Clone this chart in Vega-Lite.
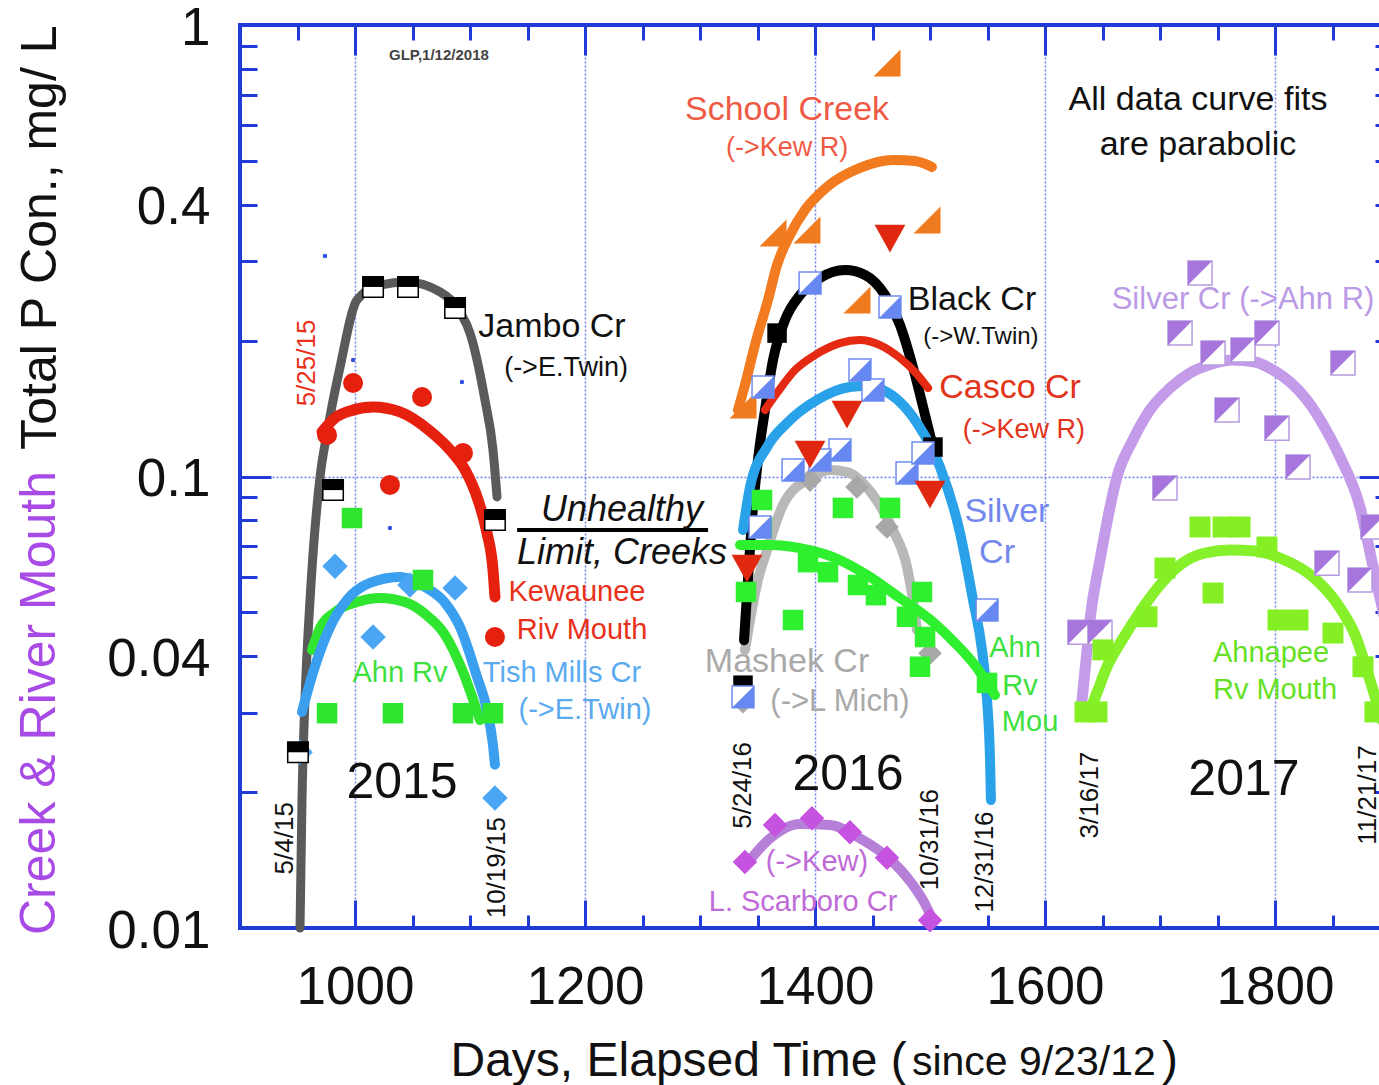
{
  "$schema": "https://vega.github.io/schema/vega-lite/v6.json",
  "width": 1150,
  "height": 903,
  "autosize": {"type": "none"},
  "padding": {"left": 240, "top": 25, "right": -11, "bottom": 157},
  "background": "white",
  "config": {
    "view": {"stroke": "#1f3ad6", "strokeWidth": 4},
    "text": {"font": "Liberation Sans"}
  },
  "datasets": {
    "pt": [{"day": 900, "p": 0.01}],
    "uline": [{"day": 1141, "day2": 1307, "p": 0.0761}],
    "curves": [
      {"s": "jambo", "day": 952.2, "p": 0.0100}, {"s": "jambo", "day": 953.9, "p": 0.0192}, {"s": "jambo", "day": 956.5, "p": 0.0320}, {"s": "jambo", "day": 960.9, "p": 0.0533}, {"s": "jambo", "day": 969.6, "p": 0.0998}, {"s": "jambo", "day": 975.7, "p": 0.1249}, {"s": "jambo", "day": 987.0, "p": 0.1748}, {"s": "jambo", "day": 1001.7, "p": 0.2460}, {"s": "jambo", "day": 1021.7, "p": 0.2655}, {"s": "jambo", "day": 1045.2, "p": 0.2697}, {"s": "jambo", "day": 1073.9, "p": 0.2563}, {"s": "jambo", "day": 1091.3, "p": 0.2314}, {"s": "jambo", "day": 1100.0, "p": 0.2078}, {"s": "jambo", "day": 1113.0, "p": 0.1477}, {"s": "jambo", "day": 1120.0, "p": 0.1145}, {"s": "jambo", "day": 1123.5, "p": 0.0901},
      {"s": "kew", "day": 971.3, "p": 0.1255}, {"s": "kew", "day": 982.6, "p": 0.1348}, {"s": "kew", "day": 995.7, "p": 0.1397}, {"s": "kew", "day": 1015.7, "p": 0.1425}, {"s": "kew", "day": 1039.1, "p": 0.1390}, {"s": "kew", "day": 1065.2, "p": 0.1261}, {"s": "kew", "day": 1082.6, "p": 0.1145}, {"s": "kew", "day": 1095.7, "p": 0.1034}, {"s": "kew", "day": 1107.0, "p": 0.0887}, {"s": "kew", "day": 1114.8, "p": 0.0750}, {"s": "kew", "day": 1120.0, "p": 0.0621}, {"s": "kew", "day": 1121.7, "p": 0.0541},
      {"s": "tish", "day": 953.9, "p": 0.0301}, {"s": "tish", "day": 959.1, "p": 0.0337}, {"s": "tish", "day": 967.0, "p": 0.0392}, {"s": "tish", "day": 978.3, "p": 0.0464}, {"s": "tish", "day": 993.0, "p": 0.0533}, {"s": "tish", "day": 1013.0, "p": 0.0581}, {"s": "tish", "day": 1039.1, "p": 0.0599}, {"s": "tish", "day": 1060.9, "p": 0.0569}, {"s": "tish", "day": 1078.3, "p": 0.0525}, {"s": "tish", "day": 1091.3, "p": 0.0464}, {"s": "tish", "day": 1106.1, "p": 0.0360}, {"s": "tish", "day": 1114.8, "p": 0.0304}, {"s": "tish", "day": 1120.0, "p": 0.0254}, {"s": "tish", "day": 1121.7, "p": 0.0230},
      {"s": "ahn15", "day": 962.6, "p": 0.0413}, {"s": "ahn15", "day": 969.6, "p": 0.0462}, {"s": "ahn15", "day": 982.6, "p": 0.0501}, {"s": "ahn15", "day": 1001.7, "p": 0.0527}, {"s": "ahn15", "day": 1021.7, "p": 0.0538}, {"s": "ahn15", "day": 1043.5, "p": 0.0527}, {"s": "ahn15", "day": 1060.9, "p": 0.0496}, {"s": "ahn15", "day": 1078.3, "p": 0.0446}, {"s": "ahn15", "day": 1093.9, "p": 0.0369}, {"s": "ahn15", "day": 1104.3, "p": 0.0312}, {"s": "ahn15", "day": 1108.7, "p": 0.0289},
      {"s": "school", "day": 1333.0, "p": 0.1404}, {"s": "school", "day": 1339.1, "p": 0.1595}, {"s": "school", "day": 1347.8, "p": 0.1955}, {"s": "school", "day": 1359.1, "p": 0.2460}, {"s": "school", "day": 1367.0, "p": 0.2940}, {"s": "school", "day": 1378.3, "p": 0.3427}, {"s": "school", "day": 1391.3, "p": 0.3893}, {"s": "school", "day": 1410.4, "p": 0.4377}, {"s": "school", "day": 1439.1, "p": 0.4825}, {"s": "school", "day": 1467.8, "p": 0.5024}, {"s": "school", "day": 1487.0, "p": 0.4998}, {"s": "school", "day": 1501.7, "p": 0.4849},
      {"s": "black", "day": 1338.3, "p": 0.0434}, {"s": "black", "day": 1341.7, "p": 0.0590}, {"s": "black", "day": 1345.2, "p": 0.0801}, {"s": "black", "day": 1350.4, "p": 0.1088}, {"s": "black", "day": 1356.5, "p": 0.1404}, {"s": "black", "day": 1363.5, "p": 0.1811}, {"s": "black", "day": 1373.9, "p": 0.2222}, {"s": "black", "day": 1387.0, "p": 0.2523}, {"s": "black", "day": 1404.3, "p": 0.2752}, {"s": "black", "day": 1426.1, "p": 0.2866}, {"s": "black", "day": 1443.5, "p": 0.2795}, {"s": "black", "day": 1460.9, "p": 0.2523}, {"s": "black", "day": 1473.9, "p": 0.2166}, {"s": "black", "day": 1487.0, "p": 0.1678}, {"s": "black", "day": 1495.7, "p": 0.1368}, {"s": "black", "day": 1502.6, "p": 0.1162},
      {"s": "casco", "day": 1356.5, "p": 0.1404}, {"s": "casco", "day": 1367.0, "p": 0.1531}, {"s": "casco", "day": 1382.6, "p": 0.1721}, {"s": "casco", "day": 1400.0, "p": 0.1858}, {"s": "casco", "day": 1421.7, "p": 0.1975}, {"s": "casco", "day": 1439.1, "p": 0.2006}, {"s": "casco", "day": 1456.5, "p": 0.1955}, {"s": "casco", "day": 1473.9, "p": 0.1830}, {"s": "casco", "day": 1487.0, "p": 0.1704}, {"s": "casco", "day": 1498.3, "p": 0.1570},
      {"s": "silver16", "day": 1337.4, "p": 0.0761}, {"s": "silver16", "day": 1343.5, "p": 0.0948}, {"s": "silver16", "day": 1358.3, "p": 0.1162}, {"s": "silver16", "day": 1375.7, "p": 0.1314}, {"s": "silver16", "day": 1401.7, "p": 0.1477}, {"s": "silver16", "day": 1430.4, "p": 0.1578}, {"s": "silver16", "day": 1443.5, "p": 0.1586}, {"s": "silver16", "day": 1459.1, "p": 0.1554}, {"s": "silver16", "day": 1488.7, "p": 0.1314}, {"s": "silver16", "day": 1508.7, "p": 0.1050}, {"s": "silver16", "day": 1526.1, "p": 0.0750}, {"s": "silver16", "day": 1537.4, "p": 0.0533}, {"s": "silver16", "day": 1545.2, "p": 0.0413}, {"s": "silver16", "day": 1549.6, "p": 0.0320}, {"s": "silver16", "day": 1552.2, "p": 0.0236}, {"s": "silver16", "day": 1553.0, "p": 0.0192},
      {"s": "mashek", "day": 1339.1, "p": 0.0413}, {"s": "mashek", "day": 1343.5, "p": 0.0481}, {"s": "mashek", "day": 1350.4, "p": 0.0590}, {"s": "mashek", "day": 1358.3, "p": 0.0687}, {"s": "mashek", "day": 1372.2, "p": 0.0865}, {"s": "mashek", "day": 1395.7, "p": 0.0992}, {"s": "mashek", "day": 1413.0, "p": 0.1034}, {"s": "mashek", "day": 1427.8, "p": 0.1023}, {"s": "mashek", "day": 1450.4, "p": 0.0910}, {"s": "mashek", "day": 1467.8, "p": 0.0761}, {"s": "mashek", "day": 1480.0, "p": 0.0630}, {"s": "mashek", "day": 1485.2, "p": 0.0533}, {"s": "mashek", "day": 1488.7, "p": 0.0457},
      {"s": "ahn16", "day": 1334.8, "p": 0.0705}, {"s": "ahn16", "day": 1360.9, "p": 0.0705}, {"s": "ahn16", "day": 1387.0, "p": 0.0694}, {"s": "ahn16", "day": 1415.7, "p": 0.0663}, {"s": "ahn16", "day": 1445.2, "p": 0.0605}, {"s": "ahn16", "day": 1473.9, "p": 0.0538}, {"s": "ahn16", "day": 1502.6, "p": 0.0476}, {"s": "ahn16", "day": 1521.7, "p": 0.0428}, {"s": "ahn16", "day": 1539.1, "p": 0.0382}, {"s": "ahn16", "day": 1556.5, "p": 0.0328},
      {"s": "scarboro", "day": 1339.1, "p": 0.0137}, {"s": "scarboro", "day": 1360.9, "p": 0.0158}, {"s": "scarboro", "day": 1387.0, "p": 0.0170}, {"s": "scarboro", "day": 1413.0, "p": 0.0169}, {"s": "scarboro", "day": 1439.1, "p": 0.0158}, {"s": "scarboro", "day": 1465.2, "p": 0.0142}, {"s": "scarboro", "day": 1482.6, "p": 0.0127}, {"s": "scarboro", "day": 1495.7, "p": 0.0113}, {"s": "scarboro", "day": 1501.7, "p": 0.0105},
      {"s": "silver17", "day": 1632.2, "p": 0.0320}, {"s": "silver17", "day": 1635.7, "p": 0.0392}, {"s": "silver17", "day": 1639.1, "p": 0.0481}, {"s": "silver17", "day": 1647.8, "p": 0.0653}, {"s": "silver17", "day": 1662.6, "p": 0.0998}, {"s": "silver17", "day": 1676.5, "p": 0.1205}, {"s": "silver17", "day": 1691.3, "p": 0.1404}, {"s": "silver17", "day": 1708.7, "p": 0.1570}, {"s": "silver17", "day": 1726.1, "p": 0.1696}, {"s": "silver17", "day": 1745.2, "p": 0.1775}, {"s": "silver17", "day": 1763.5, "p": 0.1811}, {"s": "silver17", "day": 1782.6, "p": 0.1793}, {"s": "silver17", "day": 1798.3, "p": 0.1721}, {"s": "silver17", "day": 1813.0, "p": 0.1620}, {"s": "silver17", "day": 1827.8, "p": 0.1477}, {"s": "silver17", "day": 1843.5, "p": 0.1280}, {"s": "silver17", "day": 1856.5, "p": 0.1105}, {"s": "silver17", "day": 1873.9, "p": 0.0856}, {"s": "silver17", "day": 1885.2, "p": 0.0633}, {"s": "silver17", "day": 1895.7, "p": 0.0481},
      {"s": "ahnapee", "day": 1637.4, "p": 0.0296}, {"s": "ahnapee", "day": 1645.2, "p": 0.0332}, {"s": "ahnapee", "day": 1653.9, "p": 0.0379}, {"s": "ahnapee", "day": 1667.0, "p": 0.0434}, {"s": "ahnapee", "day": 1682.6, "p": 0.0501}, {"s": "ahnapee", "day": 1700.0, "p": 0.0575}, {"s": "ahnapee", "day": 1717.4, "p": 0.0637}, {"s": "ahnapee", "day": 1739.1, "p": 0.0677}, {"s": "ahnapee", "day": 1760.9, "p": 0.0687}, {"s": "ahnapee", "day": 1782.6, "p": 0.0684}, {"s": "ahnapee", "day": 1804.3, "p": 0.0660}, {"s": "ahnapee", "day": 1833.0, "p": 0.0599}, {"s": "ahnapee", "day": 1856.5, "p": 0.0512}, {"s": "ahnapee", "day": 1869.6, "p": 0.0446}, {"s": "ahnapee", "day": 1882.6, "p": 0.0354}, {"s": "ahnapee", "day": 1893.0, "p": 0.0289}
    ],
    "pts": [
      {"s": "jambo", "day": 950.4, "p": 0.0245}, {"s": "jambo", "day": 980.9, "p": 0.0933}, {"s": "jambo", "day": 1015.7, "p": 0.2629}, {"s": "jambo", "day": 1046.1, "p": 0.2629}, {"s": "jambo", "day": 1087.0, "p": 0.2361}, {"s": "jambo", "day": 1121.7, "p": 0.0801},
      {"s": "kew", "day": 975.7, "p": 0.1236}, {"s": "kew", "day": 998.3, "p": 0.1611}, {"s": "kew", "day": 1058.3, "p": 0.1500}, {"s": "kew", "day": 1093.9, "p": 0.1127}, {"s": "kew", "day": 1030.4, "p": 0.0958}, {"s": "kew", "day": 1121.7, "p": 0.0441},
      {"s": "tiny", "day": 973.9, "p": 0.3078}, {"s": "tiny", "day": 998.3, "p": 0.1811}, {"s": "tiny", "day": 1093.0, "p": 0.1620}, {"s": "tiny", "day": 1030.4, "p": 0.0769},
      {"s": "tish", "day": 982.6, "p": 0.0633}, {"s": "tish", "day": 1015.7, "p": 0.0441}, {"s": "tish", "day": 1047.8, "p": 0.0575}, {"s": "tish", "day": 1087.0, "p": 0.0566}, {"s": "tish", "day": 1121.7, "p": 0.0194}, {"s": "tish", "day": 952.2, "p": 0.0245},
      {"s": "ahn15", "day": 975.7, "p": 0.0299}, {"s": "ahn15", "day": 1033.0, "p": 0.0299}, {"s": "ahn15", "day": 1093.9, "p": 0.0299}, {"s": "ahn15", "day": 1120.0, "p": 0.0299}, {"s": "ahn15", "day": 997.4, "p": 0.0809}, {"s": "ahn15", "day": 1059.1, "p": 0.0590},
      {"s": "school", "day": 1462.6, "p": 0.8237}, {"s": "school", "day": 1363.5, "p": 0.3462}, {"s": "school", "day": 1393.0, "p": 0.3516}, {"s": "school", "day": 1497.4, "p": 0.3700}, {"s": "school", "day": 1436.5, "p": 0.2460}, {"s": "school", "day": 1337.4, "p": 0.1440},
      {"s": "black", "day": 1367.0, "p": 0.2078}, {"s": "black", "day": 1502.6, "p": 0.1162}, {"s": "black", "day": 1337.4, "p": 0.0345},
      {"s": "casco", "day": 1465.2, "p": 0.3392}, {"s": "casco", "day": 1427.8, "p": 0.1382}, {"s": "casco", "day": 1395.7, "p": 0.1127}, {"s": "casco", "day": 1500.0, "p": 0.0919}, {"s": "casco", "day": 1340.9, "p": 0.0630},
      {"s": "silver16", "day": 1395.7, "p": 0.2683}, {"s": "silver16", "day": 1465.2, "p": 0.2374}, {"s": "silver16", "day": 1354.8, "p": 0.1578}, {"s": "silver16", "day": 1439.1, "p": 0.1721}, {"s": "silver16", "day": 1450.4, "p": 0.1554}, {"s": "silver16", "day": 1421.7, "p": 0.1145}, {"s": "silver16", "day": 1380.9, "p": 0.1034}, {"s": "silver16", "day": 1404.3, "p": 0.1088}, {"s": "silver16", "day": 1480.0, "p": 0.1018}, {"s": "silver16", "day": 1493.9, "p": 0.1127}, {"s": "silver16", "day": 1352.2, "p": 0.0773}, {"s": "silver16", "day": 1549.6, "p": 0.0506}, {"s": "silver16", "day": 1337.4, "p": 0.0325},
      {"s": "mashek", "day": 1395.7, "p": 0.0982}, {"s": "mashek", "day": 1436.5, "p": 0.0948}, {"s": "mashek", "day": 1462.6, "p": 0.0773}, {"s": "mashek", "day": 1500.0, "p": 0.0406}, {"s": "mashek", "day": 1337.4, "p": 0.0317},
      {"s": "ahn16", "day": 1353.9, "p": 0.0887}, {"s": "ahn16", "day": 1353.9, "p": 0.0773}, {"s": "ahn16", "day": 1340.0, "p": 0.0555}, {"s": "ahn16", "day": 1380.9, "p": 0.0481}, {"s": "ahn16", "day": 1393.9, "p": 0.0646}, {"s": "ahn16", "day": 1411.3, "p": 0.0614}, {"s": "ahn16", "day": 1424.3, "p": 0.0852}, {"s": "ahn16", "day": 1465.2, "p": 0.0852}, {"s": "ahn16", "day": 1437.4, "p": 0.0575}, {"s": "ahn16", "day": 1453.0, "p": 0.0546}, {"s": "ahn16", "day": 1480.0, "p": 0.0489}, {"s": "ahn16", "day": 1493.0, "p": 0.0555}, {"s": "ahn16", "day": 1495.7, "p": 0.0441}, {"s": "ahn16", "day": 1491.3, "p": 0.0379}, {"s": "ahn16", "day": 1549.6, "p": 0.0349},
      {"s": "scarboro", "day": 1339.1, "p": 0.0140}, {"s": "scarboro", "day": 1365.2, "p": 0.0169}, {"s": "scarboro", "day": 1397.4, "p": 0.0175}, {"s": "scarboro", "day": 1430.4, "p": 0.0163}, {"s": "scarboro", "day": 1462.6, "p": 0.0143}, {"s": "scarboro", "day": 1500.0, "p": 0.0104},
      {"s": "silver17", "day": 1630.4, "p": 0.0452}, {"s": "silver17", "day": 1647.8, "p": 0.0452}, {"s": "silver17", "day": 1704.3, "p": 0.0943}, {"s": "silver17", "day": 1734.8, "p": 0.2823}, {"s": "silver17", "day": 1717.4, "p": 0.2078}, {"s": "silver17", "day": 1746.1, "p": 0.1877}, {"s": "silver17", "day": 1772.2, "p": 0.1906}, {"s": "silver17", "day": 1793.0, "p": 0.2078}, {"s": "silver17", "day": 1859.1, "p": 0.1784}, {"s": "silver17", "day": 1758.3, "p": 0.1404}, {"s": "silver17", "day": 1801.7, "p": 0.1280}, {"s": "silver17", "day": 1820.0, "p": 0.1050}, {"s": "silver17", "day": 1845.2, "p": 0.0643}, {"s": "silver17", "day": 1873.9, "p": 0.0590}, {"s": "silver17", "day": 1885.2, "p": 0.0773},
      {"s": "ahnapee", "day": 1634.8, "p": 0.0301}, {"s": "ahnapee", "day": 1645.2, "p": 0.0301}, {"s": "ahnapee", "day": 1650.4, "p": 0.0413}, {"s": "ahnapee", "day": 1688.7, "p": 0.0489}, {"s": "ahnapee", "day": 1704.3, "p": 0.0627}, {"s": "ahnapee", "day": 1734.8, "p": 0.0773}, {"s": "ahnapee", "day": 1754.8, "p": 0.0773}, {"s": "ahnapee", "day": 1769.6, "p": 0.0773}, {"s": "ahnapee", "day": 1793.0, "p": 0.0698}, {"s": "ahnapee", "day": 1746.1, "p": 0.0552}, {"s": "ahnapee", "day": 1802.6, "p": 0.0481}, {"s": "ahnapee", "day": 1820.0, "p": 0.0481}, {"s": "ahnapee", "day": 1850.4, "p": 0.0450}, {"s": "ahnapee", "day": 1876.5, "p": 0.0379}, {"s": "ahnapee", "day": 1886.9, "p": 0.0301}
    ],
    "t34": [
      {"day": 1171.3, "p": 0.2144, "text": "Jambo Cr", "c": "black"},
      {"day": 1375.7, "p": 0.648, "text": "School Creek", "c": "school"},
      {"day": 1569.6, "p": 0.157, "text": "Casco Cr", "c": "casco"},
      {"day": 1536.5, "p": 0.246, "text": "Black Cr", "c": "black"},
      {"day": 1375.7, "p": 0.0388, "text": "Mashek Cr", "c": "mashek"},
      {"day": 1566.9, "p": 0.0834, "text": "Silver", "c": "silver16"},
      {"day": 1558.3, "p": 0.0677, "text": "Cr", "c": "silver16"},
      {"day": 1733.0, "p": 0.682, "text": "All data curve fits", "c": "black"},
      {"day": 1733.0, "p": 0.542, "text": "are parabolic", "c": "black"}
    ],
    "t29": [
      {"day": 1193.0, "p": 0.0555, "text": "Kewaunee", "c": "kew"},
      {"day": 1197.4, "p": 0.0457, "text": "Riv Mouth", "c": "kew"},
      {"day": 1180.0, "p": 0.0368, "text": "Tish Mills Cr", "c": "tish"},
      {"day": 1200.0, "p": 0.0304, "text": "(->E.Twin)", "c": "tish"},
      {"day": 1039.1, "p": 0.0367, "text": "Ahn Rv", "c": "ahn"},
      {"day": 1389.6, "p": 0.01142, "text": "L. Scarboro Cr", "c": "scarboro"},
      {"day": 1401.7, "p": 0.0140, "text": "(->Kew)", "c": "scarboro"},
      {"day": 1796.5, "p": 0.0406, "text": "Ahnapee", "c": "ahnapee"},
      {"day": 1800.0, "p": 0.0337, "text": "Rv Mouth", "c": "ahnapee"},
      {"day": 1573.9, "p": 0.0417, "text": "Ahn", "c": "ahn"},
      {"day": 1578.3, "p": 0.0344, "text": "Rv", "c": "ahn"},
      {"day": 1587.0, "p": 0.0286, "text": "Mou", "c": "ahn"}
    ],
    "t31": [
      {"day": 1772.2, "p": 0.246, "text": "Silver Cr (->Ahn R)", "c": "silver17"},
      {"day": 1421.7, "p": 0.0317, "text": "(->L Mich)", "c": "mashek"}
    ],
    "t27": [
      {"day": 1183.5, "p": 0.1739, "text": "(->E.Twin)", "c": "black"},
      {"day": 1375.7, "p": 0.534, "text": "(->Kew R)", "c": "school"},
      {"day": 1581.7, "p": 0.1268, "text": "(->Kew R)", "c": "casco"}
    ],
    "t24": [
      {"day": 1544.3, "p": 0.2037, "text": "(->W.Twin)", "c": "black"}
    ],
    "tyear": [
      {"day": 1040.9, "p": 0.0210, "text": "2015", "c": "black"},
      {"day": 1428.7, "p": 0.0218, "text": "2016", "c": "black"},
      {"day": 1773.0, "p": 0.0213, "text": "2017", "c": "black"}
    ],
    "tdate": [
      {"day": 939.1, "p": 0.0158, "text": "5/4/15", "c": "black"},
      {"day": 1123.5, "p": 0.0136, "text": "10/19/15", "c": "black"},
      {"day": 1337.4, "p": 0.0207, "text": "5/24/16", "c": "black"},
      {"day": 1500.0, "p": 0.0157, "text": "10/31/16", "c": "black"},
      {"day": 1547.8, "p": 0.0140, "text": "12/31/16", "c": "black"},
      {"day": 1639.1, "p": 0.0197, "text": "3/16/17", "c": "black"},
      {"day": 1881.0, "p": 0.0197, "text": "11/21/17", "c": "black"},
      {"day": 958.0, "p": 0.1784, "text": "5/25/15", "c": "kew"}
    ],
    "titalic": [
      {"day": 1232.2, "p": 0.0843, "text": "Unhealthy", "c": "black"},
      {"day": 1232.2, "p": 0.0677, "text": "Limit, Creeks", "c": "black"}
    ],
    "tglp": [
      {"day": 1073.0, "p": 0.858, "text": "GLP,1/12/2018", "c": "glp"}
    ],
    "tytitle": [
      {"day": 726.1, "p": 0.00965, "text": "Creek & River Mouth", "c": "purple"}
    ],
    "tsince": [
      {"day": 1484.3, "p": 0.004725, "text": "since 9/23/12", "c": "black"}
    ],
    "tparen": [
      {"day": 1701.7, "p": 0.004725, "text": ")", "c": "black"}
    ]
  },
  "encoding": {
    "x": {"field": "day", "type": "quantitative", "scale": {"domain": [900, 1900], "nice": false, "zero": false}, "axis": null},
    "y": {"field": "p", "type": "quantitative", "scale": {"type": "log", "domain": [0.01, 1], "nice": false}, "axis": null}
  },
  "resolve": {"axis": {"x": "independent", "y": "independent"}},
  "layer": [
    {
      "data": {"name": "pt"},
      "mark": {"type": "point", "opacity": 0},
      "encoding": {
        "x": {"field": "day", "type": "quantitative", "scale": {"domain": [900, 1900], "nice": false, "zero": false},
          "axis": {"orient": "bottom", "values": [1000, 1200, 1400, 1600, 1800], "format": "d", "ticks": false, "domain": false,
            "grid": true, "gridColor": "#6f80ee", "gridDash": [2, 2], "gridWidth": 1.5,
            "labelFont": "Liberation Sans", "labelFontSize": 53, "labelColor": "#111111", "labelPadding": 33, "labelOverlap": false, "labelFlush": false,
            "title": "Days, Elapsed Time (", "titleFont": "Liberation Sans", "titleFontSize": 48, "titleFontWeight": "normal", "titleColor": "#111111",
            "titleX": 210, "titleY": 147, "titleAlign": "left", "titleBaseline": "alphabetic", "titleAngle": 0}}
      }
    },
    {
      "data": {"name": "pt"},
      "mark": {"type": "point", "opacity": 0},
      "encoding": {
        "x": {"field": "day", "type": "quantitative", "scale": {"domain": [900, 1900], "nice": false, "zero": false},
          "axis": {"orient": "bottom", "values": [1000, 1200, 1400, 1600, 1800], "labels": false, "domain": false, "grid": false,
            "ticks": true, "tickSize": 28, "tickWidth": 3, "tickColor": "#1f3ad6", "offset": -28, "title": null}}
      }
    },
    {
      "data": {"name": "pt"},
      "mark": {"type": "point", "opacity": 0},
      "encoding": {
        "x": {"field": "day", "type": "quantitative", "scale": {"domain": [900, 1900], "nice": false, "zero": false},
          "axis": {"orient": "bottom", "values": [950, 1050, 1100, 1150, 1250, 1300, 1350, 1450, 1500, 1550, 1650, 1700, 1750, 1850], "labels": false, "domain": false, "grid": false,
            "ticks": true, "tickSize": 13, "tickWidth": 3, "tickColor": "#1f3ad6", "offset": -13, "title": null}}
      }
    },
    {
      "data": {"name": "pt"},
      "mark": {"type": "point", "opacity": 0},
      "encoding": {
        "x": {"field": "day", "type": "quantitative", "scale": {"domain": [900, 1900], "nice": false, "zero": false},
          "axis": {"orient": "top", "values": [1000, 1200, 1400, 1600, 1800], "labels": false, "domain": false, "grid": false,
            "ticks": true, "tickSize": 30, "tickWidth": 3, "tickColor": "#1f3ad6", "offset": -30, "title": null}}
      }
    },
    {
      "data": {"name": "pt"},
      "mark": {"type": "point", "opacity": 0},
      "encoding": {
        "x": {"field": "day", "type": "quantitative", "scale": {"domain": [900, 1900], "nice": false, "zero": false},
          "axis": {"orient": "top", "values": [950, 1050, 1100, 1150, 1250, 1300, 1350, 1450, 1500, 1550, 1650, 1700, 1750, 1850], "labels": false, "domain": false, "grid": false,
            "ticks": true, "tickSize": 15, "tickWidth": 3, "tickColor": "#1f3ad6", "offset": -15, "title": null}}
      }
    },
    {
      "data": {"name": "pt"},
      "mark": {"type": "point", "opacity": 0},
      "encoding": {
        "y": {"field": "p", "type": "quantitative", "scale": {"type": "log", "domain": [0.01, 1], "nice": false},
          "axis": {"orient": "left", "values": [1, 0.4, 0.1, 0.04, 0.01], "format": "~g", "ticks": false, "domain": false, "grid": false,
            "labelFont": "Liberation Sans", "labelFontSize": 53, "labelColor": "#111111", "labelPadding": 30, "labelOffset": 3, "labelOverlap": false, "labelFlush": false,
            "title": "Total P Con., mg/ L", "titleFont": "Liberation Sans", "titleFontSize": 50, "titleFontWeight": "normal", "titleColor": "#111111",
            "titleAngle": 270, "titleX": -200, "titleY": 0, "titleAlign": "right", "titleBaseline": "middle"}}
      }
    },
    {
      "data": {"name": "pt"},
      "mark": {"type": "point", "opacity": 0},
      "encoding": {
        "y": {"field": "p", "type": "quantitative", "scale": {"type": "log", "domain": [0.01, 1], "nice": false},
          "axis": {"orient": "left", "values": [0.1], "labels": false, "ticks": false, "domain": false,
            "grid": true, "gridColor": "#6f80ee", "gridDash": [2, 2], "gridWidth": 1.5, "title": null}}
      }
    },
    {
      "data": {"name": "pt"},
      "mark": {"type": "point", "opacity": 0},
      "encoding": {
        "y": {"field": "p", "type": "quantitative", "scale": {"type": "log", "domain": [0.01, 1], "nice": false},
          "axis": {"orient": "left", "values": [0.1], "labels": false, "domain": false, "grid": false,
            "ticks": true, "tickSize": 31, "tickWidth": 3, "tickColor": "#1f3ad6", "offset": -31, "title": null}}
      }
    },
    {
      "data": {"name": "pt"},
      "mark": {"type": "point", "opacity": 0},
      "encoding": {
        "y": {"field": "p", "type": "quantitative", "scale": {"type": "log", "domain": [0.01, 1], "nice": false},
          "axis": {"orient": "left", "values": [0.02, 0.03, 0.04, 0.05, 0.06, 0.07, 0.08, 0.09, 0.2, 0.3, 0.4, 0.5, 0.6, 0.7, 0.8, 0.9], "labels": false, "domain": false, "grid": false,
            "ticks": true, "tickSize": 17, "tickWidth": 3, "tickColor": "#1f3ad6", "offset": -17, "title": null}}
      }
    },
    {
      "data": {"name": "pt"},
      "mark": {"type": "point", "opacity": 0},
      "encoding": {
        "y": {"field": "p", "type": "quantitative", "scale": {"type": "log", "domain": [0.01, 1], "nice": false},
          "axis": {"orient": "right", "values": [0.1], "labels": false, "domain": false, "grid": false,
            "ticks": true, "tickSize": 31, "tickWidth": 3, "tickColor": "#1f3ad6", "offset": -31, "title": null}}
      }
    },
    {
      "data": {"name": "pt"},
      "mark": {"type": "point", "opacity": 0},
      "encoding": {
        "y": {"field": "p", "type": "quantitative", "scale": {"type": "log", "domain": [0.01, 1], "nice": false},
          "axis": {"orient": "right", "values": [0.02, 0.03, 0.04, 0.05, 0.06, 0.07, 0.08, 0.09, 0.2, 0.3, 0.4, 0.5, 0.6, 0.7, 0.8, 0.9], "labels": false, "domain": false, "grid": false,
            "ticks": true, "tickSize": 15, "tickWidth": 3, "tickColor": "#1f3ad6", "offset": -15, "title": null}}
      }
    },

    {"data": {"name": "curves"}, "transform": [{"filter": "datum.s === 'jambo'"}], "mark": {"type": "line", "color": "#5a5a5a", "strokeWidth": 9, "interpolate": "monotone", "strokeCap": "round"}},
    {"data": {"name": "curves"}, "transform": [{"filter": "datum.s === 'kew'"}], "mark": {"type": "line", "color": "#e5200f", "strokeWidth": 11, "interpolate": "monotone", "strokeCap": "round"}},
    {"data": {"name": "curves"}, "transform": [{"filter": "datum.s === 'ahn15'"}], "mark": {"type": "line", "color": "#30e530", "strokeWidth": 10, "interpolate": "monotone", "strokeCap": "round"}},
    {"data": {"name": "curves"}, "transform": [{"filter": "datum.s === 'tish'"}], "mark": {"type": "line", "color": "#3b9ff0", "strokeWidth": 10, "interpolate": "monotone", "strokeCap": "round"}},
    {"data": {"name": "curves"}, "transform": [{"filter": "datum.s === 'mashek'"}], "mark": {"type": "line", "color": "#b8b8b8", "strokeWidth": 10, "interpolate": "monotone", "strokeCap": "round"}},
    {"data": {"name": "curves"}, "transform": [{"filter": "datum.s === 'black'"}], "mark": {"type": "line", "color": "#000000", "strokeWidth": 10, "interpolate": "monotone", "strokeCap": "round"}},
    {"data": {"name": "curves"}, "transform": [{"filter": "datum.s === 'casco'"}], "mark": {"type": "line", "color": "#e42a12", "strokeWidth": 8, "interpolate": "monotone", "strokeCap": "round"}},
    {"data": {"name": "curves"}, "transform": [{"filter": "datum.s === 'silver16'"}], "mark": {"type": "line", "color": "#2aa2ea", "strokeWidth": 10, "interpolate": "monotone", "strokeCap": "round"}},
    {"data": {"name": "curves"}, "transform": [{"filter": "datum.s === 'school'"}], "mark": {"type": "line", "color": "#f27b1f", "strokeWidth": 10, "interpolate": "monotone", "strokeCap": "round"}},
    {"data": {"name": "curves"}, "transform": [{"filter": "datum.s === 'ahn16'"}], "mark": {"type": "line", "color": "#2ef02e", "strokeWidth": 10, "interpolate": "monotone", "strokeCap": "round"}},
    {"data": {"name": "curves"}, "transform": [{"filter": "datum.s === 'scarboro'"}], "mark": {"type": "line", "color": "#b680d8", "strokeWidth": 10, "interpolate": "monotone", "strokeCap": "round"}},
    {"data": {"name": "curves"}, "transform": [{"filter": "datum.s === 'silver17'"}], "mark": {"type": "line", "color": "#c39be9", "strokeWidth": 11, "interpolate": "monotone", "strokeCap": "round"}},
    {"data": {"name": "curves"}, "transform": [{"filter": "datum.s === 'ahnapee'"}], "mark": {"type": "line", "color": "#86f02a", "strokeWidth": 11, "interpolate": "monotone", "strokeCap": "round"}},

    {"data": {"name": "pts"}, "transform": [{"filter": "datum.s === 'tish'"}], "mark": {"type": "point", "shape": "diamond", "size": 650, "filled": true, "color": "#4aa6f4", "opacity": 1}},
    {"data": {"name": "pts"}, "transform": [{"filter": "datum.s === 'jambo'"}], "mark": {"type": "point", "shape": "square", "size": 420, "filled": true, "fill": "#ffffff", "stroke": "#000000", "strokeWidth": 1.5, "opacity": 1}},
    {"data": {"name": "pts"}, "transform": [{"filter": "datum.s === 'jambo'"}], "mark": {"type": "point", "shape": "M-1,-1L1,-1L1,0L-1,0Z", "size": 420, "filled": true, "color": "#000000", "opacity": 1}},
    {"data": {"name": "pts"}, "transform": [{"filter": "datum.s === 'kew'"}], "mark": {"type": "point", "shape": "circle", "size": 400, "filled": true, "color": "#e5200f", "opacity": 1}},
    {"data": {"name": "pts"}, "transform": [{"filter": "datum.s === 'tiny'"}], "mark": {"type": "point", "shape": "circle", "size": 20, "filled": true, "color": "#3355dd", "opacity": 1}},
    {"data": {"name": "pts"}, "transform": [{"filter": "datum.s === 'ahn15'"}], "mark": {"type": "point", "shape": "square", "size": 420, "filled": true, "color": "#2ee62e", "opacity": 1}},
    {"data": {"name": "pts"}, "transform": [{"filter": "datum.s === 'mashek'"}], "mark": {"type": "point", "shape": "diamond", "size": 560, "filled": true, "color": "#a8a8a8", "opacity": 1}},
    {"data": {"name": "pts"}, "transform": [{"filter": "datum.s === 'school'"}], "mark": {"type": "point", "shape": "M-1,1L1,1L1,-1Z", "size": 730, "filled": true, "color": "#f07a1e", "opacity": 1}},
    {"data": {"name": "pts"}, "transform": [{"filter": "datum.s === 'black'"}], "mark": {"type": "point", "shape": "square", "size": 380, "filled": true, "color": "#000000", "opacity": 1}},
    {"data": {"name": "pts"}, "transform": [{"filter": "datum.s === 'ahn16'"}], "mark": {"type": "point", "shape": "square", "size": 420, "filled": true, "color": "#2ef02e", "opacity": 1}},
    {"data": {"name": "pts"}, "transform": [{"filter": "datum.s === 'silver16'"}], "mark": {"type": "point", "shape": "square", "size": 480, "filled": true, "fill": "#ffffff", "stroke": "#6f8cf0", "strokeWidth": 1.5, "opacity": 1}},
    {"data": {"name": "pts"}, "transform": [{"filter": "datum.s === 'silver16'"}], "mark": {"type": "point", "shape": "M1,-1L1,1L-1,1Z", "size": 480, "filled": true, "color": "#6688f0", "opacity": 1}},
    {"data": {"name": "pts"}, "transform": [{"filter": "datum.s === 'casco'"}], "mark": {"type": "point", "shape": "M-1,-0.8L1,-0.8L0,1Z", "size": 950, "filled": true, "color": "#e02810", "opacity": 1}},
    {"data": {"name": "pts"}, "transform": [{"filter": "datum.s === 'scarboro'"}], "mark": {"type": "point", "shape": "diamond", "size": 600, "filled": true, "color": "#c553e0", "opacity": 1}},
    {"data": {"name": "pts"}, "transform": [{"filter": "datum.s === 'silver17'"}], "mark": {"type": "point", "shape": "square", "size": 580, "filled": true, "fill": "#ffffff", "stroke": "#b59ce0", "strokeWidth": 1.5, "opacity": 1}},
    {"data": {"name": "pts"}, "transform": [{"filter": "datum.s === 'silver17'"}], "mark": {"type": "point", "shape": "M-1,-1L1,-1L-1,1Z", "size": 580, "filled": true, "color": "#a676dc", "opacity": 1}},
    {"data": {"name": "pts"}, "transform": [{"filter": "datum.s === 'ahnapee'"}], "mark": {"type": "point", "shape": "square", "size": 440, "filled": true, "color": "#84f024", "opacity": 1}},

    {"data": {"name": "uline"}, "mark": {"type": "rule", "color": "#000000", "strokeWidth": 4}, "encoding": {"x2": {"field": "day2"}}},

    {"data": {"name": "t34"}, "mark": {"type": "text", "font": "Liberation Sans", "fontSize": 34, "align": "center", "baseline": "middle"},
      "encoding": {"text": {"field": "text"}, "color": {"field": "c", "type": "nominal", "legend": null,
        "scale": {"domain": ["black", "kew", "tish", "ahn", "school", "casco", "silver16", "mashek", "scarboro", "silver17", "ahnapee", "glp", "purple"],
          "range": ["#111111", "#e8301a", "#5aaaf0", "#3ee03e", "#ef5a45", "#e2341a", "#7388ee", "#a9a9a9", "#c06ad8", "#bb9ae6", "#66e022", "#444444", "#a84ae6"]}}}},
    {"data": {"name": "t29"}, "mark": {"type": "text", "font": "Liberation Sans", "fontSize": 29, "align": "center", "baseline": "middle"},
      "encoding": {"text": {"field": "text"}, "color": {"field": "c", "type": "nominal", "legend": null,
        "scale": {"domain": ["black", "kew", "tish", "ahn", "school", "casco", "silver16", "mashek", "scarboro", "silver17", "ahnapee", "glp", "purple"],
          "range": ["#111111", "#e8301a", "#5aaaf0", "#3ee03e", "#ef5a45", "#e2341a", "#7388ee", "#a9a9a9", "#c06ad8", "#bb9ae6", "#66e022", "#444444", "#a84ae6"]}}}},
    {"data": {"name": "t31"}, "mark": {"type": "text", "font": "Liberation Sans", "fontSize": 31, "align": "center", "baseline": "middle"},
      "encoding": {"text": {"field": "text"}, "color": {"field": "c", "type": "nominal", "legend": null,
        "scale": {"domain": ["black", "kew", "tish", "ahn", "school", "casco", "silver16", "mashek", "scarboro", "silver17", "ahnapee", "glp", "purple"],
          "range": ["#111111", "#e8301a", "#5aaaf0", "#3ee03e", "#ef5a45", "#e2341a", "#7388ee", "#a9a9a9", "#c06ad8", "#bb9ae6", "#66e022", "#444444", "#a84ae6"]}}}},
    {"data": {"name": "t27"}, "mark": {"type": "text", "font": "Liberation Sans", "fontSize": 27, "align": "center", "baseline": "middle"},
      "encoding": {"text": {"field": "text"}, "color": {"field": "c", "type": "nominal", "legend": null,
        "scale": {"domain": ["black", "kew", "tish", "ahn", "school", "casco", "silver16", "mashek", "scarboro", "silver17", "ahnapee", "glp", "purple"],
          "range": ["#111111", "#e8301a", "#5aaaf0", "#3ee03e", "#ef5a45", "#e2341a", "#7388ee", "#a9a9a9", "#c06ad8", "#bb9ae6", "#66e022", "#444444", "#a84ae6"]}}}},
    {"data": {"name": "t24"}, "mark": {"type": "text", "font": "Liberation Sans", "fontSize": 24, "align": "center", "baseline": "middle"},
      "encoding": {"text": {"field": "text"}, "color": {"field": "c", "type": "nominal", "legend": null,
        "scale": {"domain": ["black", "kew", "tish", "ahn", "school", "casco", "silver16", "mashek", "scarboro", "silver17", "ahnapee", "glp", "purple"],
          "range": ["#111111", "#e8301a", "#5aaaf0", "#3ee03e", "#ef5a45", "#e2341a", "#7388ee", "#a9a9a9", "#c06ad8", "#bb9ae6", "#66e022", "#444444", "#a84ae6"]}}}},
    {"data": {"name": "tyear"}, "mark": {"type": "text", "font": "Liberation Sans", "fontSize": 50, "align": "center", "baseline": "middle"},
      "encoding": {"text": {"field": "text"}, "color": {"field": "c", "type": "nominal", "legend": null,
        "scale": {"domain": ["black", "kew", "tish", "ahn", "school", "casco", "silver16", "mashek", "scarboro", "silver17", "ahnapee", "glp", "purple"],
          "range": ["#111111", "#e8301a", "#5aaaf0", "#3ee03e", "#ef5a45", "#e2341a", "#7388ee", "#a9a9a9", "#c06ad8", "#bb9ae6", "#66e022", "#444444", "#a84ae6"]}}}},
    {"data": {"name": "tdate"}, "mark": {"type": "text", "font": "Liberation Sans", "fontSize": 26, "align": "center", "baseline": "middle", "angle": 270},
      "encoding": {"text": {"field": "text"}, "color": {"field": "c", "type": "nominal", "legend": null,
        "scale": {"domain": ["black", "kew", "tish", "ahn", "school", "casco", "silver16", "mashek", "scarboro", "silver17", "ahnapee", "glp", "purple"],
          "range": ["#111111", "#e8301a", "#5aaaf0", "#3ee03e", "#ef5a45", "#e2341a", "#7388ee", "#a9a9a9", "#c06ad8", "#bb9ae6", "#66e022", "#444444", "#a84ae6"]}}}},
    {"data": {"name": "titalic"}, "mark": {"type": "text", "font": "Liberation Sans", "fontSize": 36, "fontStyle": "italic", "align": "center", "baseline": "middle"},
      "encoding": {"text": {"field": "text"}, "color": {"field": "c", "type": "nominal", "legend": null,
        "scale": {"domain": ["black", "kew", "tish", "ahn", "school", "casco", "silver16", "mashek", "scarboro", "silver17", "ahnapee", "glp", "purple"],
          "range": ["#111111", "#e8301a", "#5aaaf0", "#3ee03e", "#ef5a45", "#e2341a", "#7388ee", "#a9a9a9", "#c06ad8", "#bb9ae6", "#66e022", "#444444", "#a84ae6"]}}}},
    {"data": {"name": "tglp"}, "mark": {"type": "text", "font": "Liberation Sans", "fontSize": 15, "fontWeight": "bold", "align": "center", "baseline": "middle"},
      "encoding": {"text": {"field": "text"}, "color": {"field": "c", "type": "nominal", "legend": null,
        "scale": {"domain": ["black", "kew", "tish", "ahn", "school", "casco", "silver16", "mashek", "scarboro", "silver17", "ahnapee", "glp", "purple"],
          "range": ["#111111", "#e8301a", "#5aaaf0", "#3ee03e", "#ef5a45", "#e2341a", "#7388ee", "#a9a9a9", "#c06ad8", "#bb9ae6", "#66e022", "#444444", "#a84ae6"]}}}},
    {"data": {"name": "tytitle"}, "mark": {"type": "text", "font": "Liberation Sans", "fontSize": 50, "align": "left", "baseline": "middle", "angle": 270},
      "encoding": {"text": {"field": "text"}, "color": {"field": "c", "type": "nominal", "legend": null,
        "scale": {"domain": ["black", "kew", "tish", "ahn", "school", "casco", "silver16", "mashek", "scarboro", "silver17", "ahnapee", "glp", "purple"],
          "range": ["#111111", "#e8301a", "#5aaaf0", "#3ee03e", "#ef5a45", "#e2341a", "#7388ee", "#a9a9a9", "#c06ad8", "#bb9ae6", "#66e022", "#444444", "#a84ae6"]}}}},
    {"data": {"name": "tsince"}, "mark": {"type": "text", "font": "Liberation Sans", "fontSize": 41, "align": "left", "baseline": "alphabetic"},
      "encoding": {"text": {"field": "text"}, "color": {"field": "c", "type": "nominal", "legend": null,
        "scale": {"domain": ["black", "kew", "tish", "ahn", "school", "casco", "silver16", "mashek", "scarboro", "silver17", "ahnapee", "glp", "purple"],
          "range": ["#111111", "#e8301a", "#5aaaf0", "#3ee03e", "#ef5a45", "#e2341a", "#7388ee", "#a9a9a9", "#c06ad8", "#bb9ae6", "#66e022", "#444444", "#a84ae6"]}}}},
    {"data": {"name": "tparen"}, "mark": {"type": "text", "font": "Liberation Sans", "fontSize": 48, "align": "left", "baseline": "alphabetic"},
      "encoding": {"text": {"field": "text"}, "color": {"field": "c", "type": "nominal", "legend": null,
        "scale": {"domain": ["black", "kew", "tish", "ahn", "school", "casco", "silver16", "mashek", "scarboro", "silver17", "ahnapee", "glp", "purple"],
          "range": ["#111111", "#e8301a", "#5aaaf0", "#3ee03e", "#ef5a45", "#e2341a", "#7388ee", "#a9a9a9", "#c06ad8", "#bb9ae6", "#66e022", "#444444", "#a84ae6"]}}}}
  ]
}
